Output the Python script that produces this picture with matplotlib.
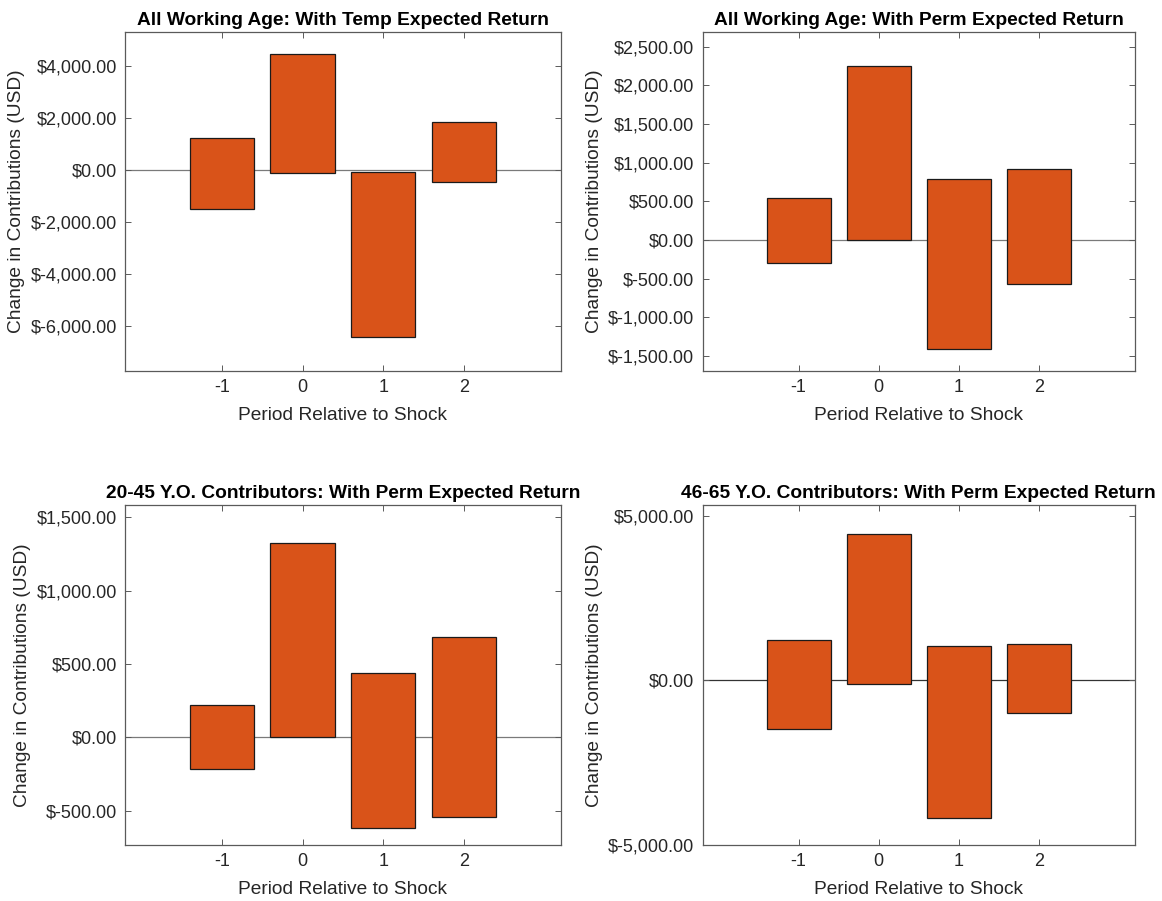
import numpy as np
import matplotlib.pyplot as plt
from matplotlib.ticker import FuncFormatter

plt.rcParams['font.family'] = ['Liberation Sans', 'DejaVu Sans']

periods = [-1, 0, 1, 2]

titles = [
    'All Working Age: With Temp Expected Return',
    'All Working Age: With Perm Expected Return',
    '20-45 Y.O. Contributors: With Perm Expected Return',
    '46-65 Y.O. Contributors: With Perm Expected Return',
]

# floating bars: lower and upper end of each bar (USD)
low_temp_all = [-1513, -128, -6436, -449]
high_temp_all = [1231, 4449, -64, 1859]

low_perm_all = [-302, 0, -1414, -573]
high_perm_all = [539, 2246, 793, 922]

low_perm_young = [-214, 0, -616, -543]
high_perm_young = [218, 1323, 436, 686]

low_perm_old = [-1488, -121, -4170, -982]
high_perm_old = [1215, 4433, 1043, 1093]

yticks_list = [
    [-6000, -4000, -2000, 0, 2000, 4000],
    [-1500, -1000, -500, 0, 500, 1000, 1500, 2000, 2500],
    [-500, 0, 500, 1000, 1500],
    [-5000, 0, 5000],
]
ylims = [(-7718, 5321), (-1690, 2694), (-734, 1584), (-5000, 5324)]

lows = [low_temp_all, low_perm_all, low_perm_young, low_perm_old]
highs = [high_temp_all, high_perm_all, high_perm_young, high_perm_old]

bar_color = '#D95319'
axis_color = '#5a5a5a'
text_color = '#262626'

fig = plt.figure(figsize=(11.62, 9.01), dpi=100)
positions = [
    [0.1076, 0.5886, 0.3749, 0.3762],
    [0.6047, 0.5886, 0.3718, 0.3762],
    [0.1076, 0.0622, 0.3749, 0.3774],
    [0.6047, 0.0622, 0.3718, 0.3774],
]

money = FuncFormatter(lambda v, pos: f'${v:,.2f}')

for i in range(4):
    ax = fig.add_axes(positions[i])
    lo = np.array(lows[i], dtype=float)
    hi = np.array(highs[i], dtype=float)
    base_col = '#333333' if i == 3 else '#7a7a7a'
    ax.axhline(0, color=base_col, lw=0.9, zorder=1)
    ax.bar(periods, hi - lo, bottom=lo, width=0.8, color=bar_color,
           edgecolor='#1a1a1a', linewidth=0.9, zorder=2)

    ax.set_xlim(-2.2, 3.2)
    ax.set_ylim(*ylims[i])
    ax.set_xticks(periods)
    ax.set_xticklabels([str(p) for p in periods])
    ax.set_yticks(yticks_list[i])
    ax.yaxis.set_major_formatter(money)

    ax.tick_params(direction='in', length=4, width=0.7, colors=axis_color,
                   labelcolor=text_color, labelsize=13,
                   top=True, right=True, pad=6)
    ax.tick_params(axis='x', pad=6)
    for sp in ax.spines.values():
        sp.set_color(axis_color)
        sp.set_linewidth(0.9)

    ax.set_title(titles[i], fontsize=13.8, fontweight='bold', color='black', pad=5)
    ax.set_xlabel('Period Relative to Shock', fontsize=13.8, color=text_color,
                  labelpad=8)
    ax.set_ylabel('Change in Contributions (USD)', fontsize=13.8, color=text_color)

fig.savefig('out.png', dpi=100)
